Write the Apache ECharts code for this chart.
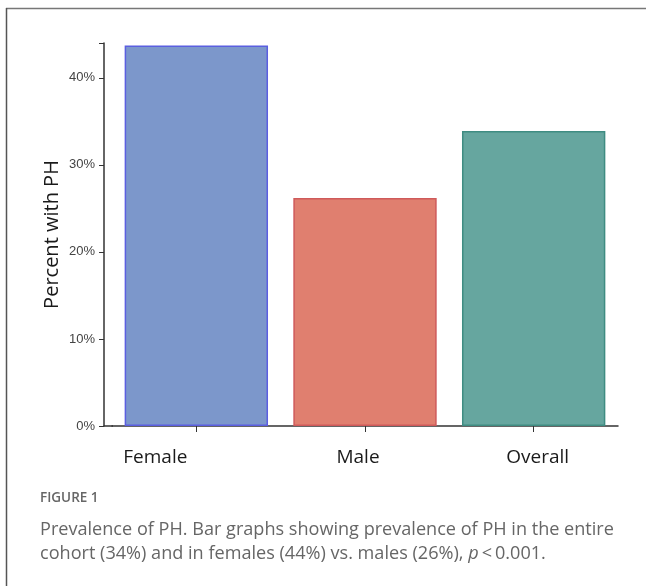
<!DOCTYPE html>
<html>
<head>
<meta charset="utf-8">
<script src="https://cdn.jsdelivr.net/npm/echarts@6/dist/echarts.min.js"></script>
<style>
html,body{margin:0;padding:0;background:#fff;}
#c{width:646px;height:586px;}
</style>
</head>
<body>
<div id="c"></div>
<script>
const categories = ['Female', 'Male', 'Overall'];
const values = [43.7, 26.2, 33.9];
const yTicks = [0, 10, 20, 30, 40];
const captionTitle = 'FIGURE 1';
const captionLines = [
  'Prevalence of PH. Bar graphs showing prevalence of PH in the entire',
  'cohort (34%) and in females (44%) vs. males (26%), '
];

const fills = ['#7c97cb', '#e07f6f', '#66a69f'];
const borders = ['#5b5fe0', '#cf5a5a', '#3f8c82'];
const catFont = {fontFamily: 'Open Sans', fontSize: 19, color: '#1a1a1a'};

const chart = echarts.init(document.getElementById('c'), null, {renderer: 'canvas'});
chart.setOption({
  animation: false,
  backgroundColor: '#fff',
  grid: {left: 112, right: 28, top: 43, bottom: 160, containLabel: false},
  xAxis: {
    type: 'category',
    data: categories,
    axisLine: {lineStyle: {color: '#333', width: 1.5}},
    axisTick: {show: true, alignWithLabel: true, length: 6, lineStyle: {color: '#333', width: 1}},
    axisLabel: {
      margin: 22,
      formatter: function (v, i) { return '{l' + i + '|' + v + '}'; },
      rich: {
        l0: Object.assign({padding: [0, 82, 0, 0]}, catFont),
        l1: Object.assign({padding: [0, 14, 0, 0]}, catFont),
        l2: Object.assign({padding: [0, 0, 0, 8]}, catFont)
      }
    }
  },
  yAxis: {
    type: 'value',
    min: 0,
    max: 44,
    interval: 10,
    offset: 8,
    name: 'Percent with PH',
    nameLocation: 'middle',
    nameGap: 42,
    nameMoveOverlap: false,
    nameTextStyle: {fontFamily: 'Open Sans', fontSize: 20, color: '#1a1a1a'},
    splitLine: {show: false},
    axisLine: {show: true, lineStyle: {color: '#333', width: 1.5}},
    axisTick: {show: true, length: 5, lineStyle: {color: '#333'}},
    axisLabel: {
      fontFamily: 'Liberation Sans',
      fontSize: 13,
      color: '#444',
      margin: 9,
      formatter: function (v) { return yTicks.indexOf(v) >= 0 ? v + '%' : ''; }
    }
  },
  series: [{
    type: 'bar',
    barCategoryGap: '15%',
    data: values.map(function (v, i) {
      return {value: v, itemStyle: {color: fills[i], borderColor: borders[i], borderWidth: 1.5}};
    })
  }],
  graphic: [
    {type: 'line', shape: {x1: 103.5, y1: 426, x2: 113, y2: 426}, style: {stroke: '#333', lineWidth: 1.5}},
    {type: 'line', shape: {x1: 6, y1: 8.5, x2: 646, y2: 8.5}, style: {stroke: '#777', lineWidth: 1.5}},
    {type: 'line', shape: {x1: 6.5, y1: 8, x2: 6.5, y2: 586}, style: {stroke: '#555', lineWidth: 1.5}},
    {type: 'text', left: 40, top: 491, style: {text: captionTitle, fontFamily: 'Open Sans', fontSize: 13.5, fontWeight: 600, fill: '#666'}},
    {type: 'text', left: 40, top: 521, style: {text: captionLines[0], fontFamily: 'Open Sans', fontSize: 18.1, fill: '#666'}},
    {type: 'text', left: 40, top: 545, style: {
      text: captionLines[1] + '{i|p}{n|\u2009<\u20090.001.}',
      fontFamily: 'Open Sans', fontSize: 18.1, fill: '#666',
      rich: {i: {fontFamily: 'Open Sans', fontSize: 18.1, fontStyle: 'italic', fill: '#666'}, n: {fontFamily: 'Open Sans', fontSize: 18.1, fill: '#666'}}
    }}
  ]
});
</script>
</body>
</html>
